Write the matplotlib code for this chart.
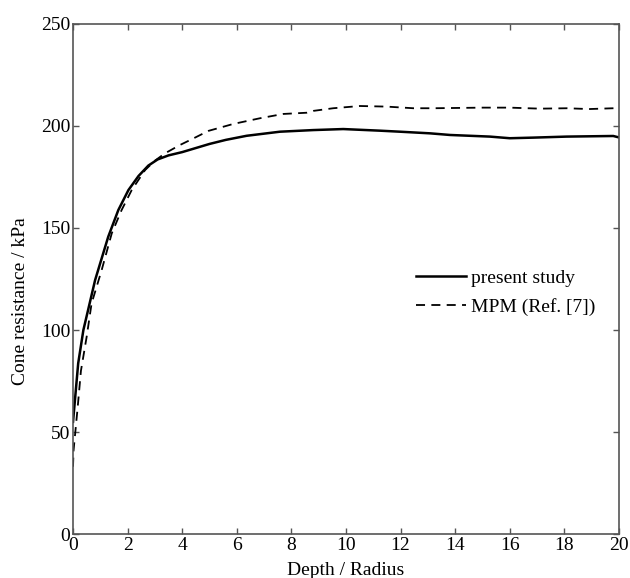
import numpy as np
import matplotlib
matplotlib.use("Agg")
import matplotlib.pyplot as plt

plt.rcParams['font.family'] = ['Liberation Serif', 'DejaVu Serif']
plt.rcParams['font.size'] = 14

# present study (solid)
depth_present = [0.0, 0.19, 0.38, 0.81, 1.29, 1.66, 2.03, 2.4, 2.76, 3.1, 3.5, 4.0, 4.5,
                 5.0, 5.6, 6.36, 7.58, 8.8, 9.9, 11.25, 11.98, 13.08, 13.81, 15.27,
                 16.0, 16.86, 18.08, 19.79, 20.0]
cone_present = [55.0, 83.7, 100.0, 124.5, 145.7, 158.8, 168.6, 175.5, 180.6, 183.6, 185.6, 187.2, 189.2,
                191.2, 193.2, 195.2, 197.2, 198.0, 198.5, 197.7, 197.2, 196.4, 195.6, 194.8,
                194.0, 194.3, 194.8, 195.1, 194.4]

# MPM (Ref. [7]) (dashed)
depth_mpm = [0.0, 0.02, 0.17, 0.29, 0.5, 0.68, 1.05, 1.42, 1.78, 2.15, 2.64, 3.0, 3.37,
             3.92, 4.35, 4.96, 5.87, 6.85, 7.7, 8.56, 8.8, 9.53, 10.51, 11.49,
             12.47, 13.2, 15.02, 16.0, 17.1, 18.1, 18.9, 19.8, 20.0]
cone_mpm = [33.0, 41.0, 62.0, 80.0, 96.7, 113.0, 129.4, 147.4, 158.8, 168.6, 178.4, 183.0, 186.6,
            190.7, 193.5, 197.6, 201.0, 203.8, 205.9, 206.5, 207.4, 208.7, 209.8, 209.5,
            208.7, 208.7, 209.0, 209.0, 208.5, 208.7, 208.3, 208.7, 208.3]

fig = plt.figure(figsize=(6.30, 5.78), dpi=100)
ax = fig.add_axes([0.1159, 0.0761, 0.8666, 0.8824])

ax.plot(depth_present, cone_present, '-', color='black', linewidth=1.8, label='present study')
ax.plot(depth_mpm, cone_mpm, '--', color='black', linewidth=1.3, dashes=(5, 3.5),
        label='MPM (Ref. [7])')

ax.set_xlim(0, 20)
ax.set_ylim(0, 250)
ax.set_xticks(np.arange(0, 21, 2))
ax.set_yticks(np.arange(0, 251, 50))
ax.tick_params(direction='in', top=True, right=True, length=4, width=1,
               color='#555555', labelsize=14, pad=2)
for sp in ax.spines.values():
    sp.set_color('#555555')
    sp.set_linewidth(1.2)

ax.set_xlabel('Depth / Radius', fontsize=14, labelpad=6)
ax.set_ylabel('Cone resistance / kPa', fontsize=14, labelpad=8.5)
ax.yaxis.label.set_y(0.457)

ax.legend(loc='center left', bbox_to_anchor=(0.5955, 0.4735), frameon=False,
          handlelength=2.6, handletextpad=0.26, fontsize=14, labelspacing=0.6)

fig.savefig('out.png', dpi=100)
